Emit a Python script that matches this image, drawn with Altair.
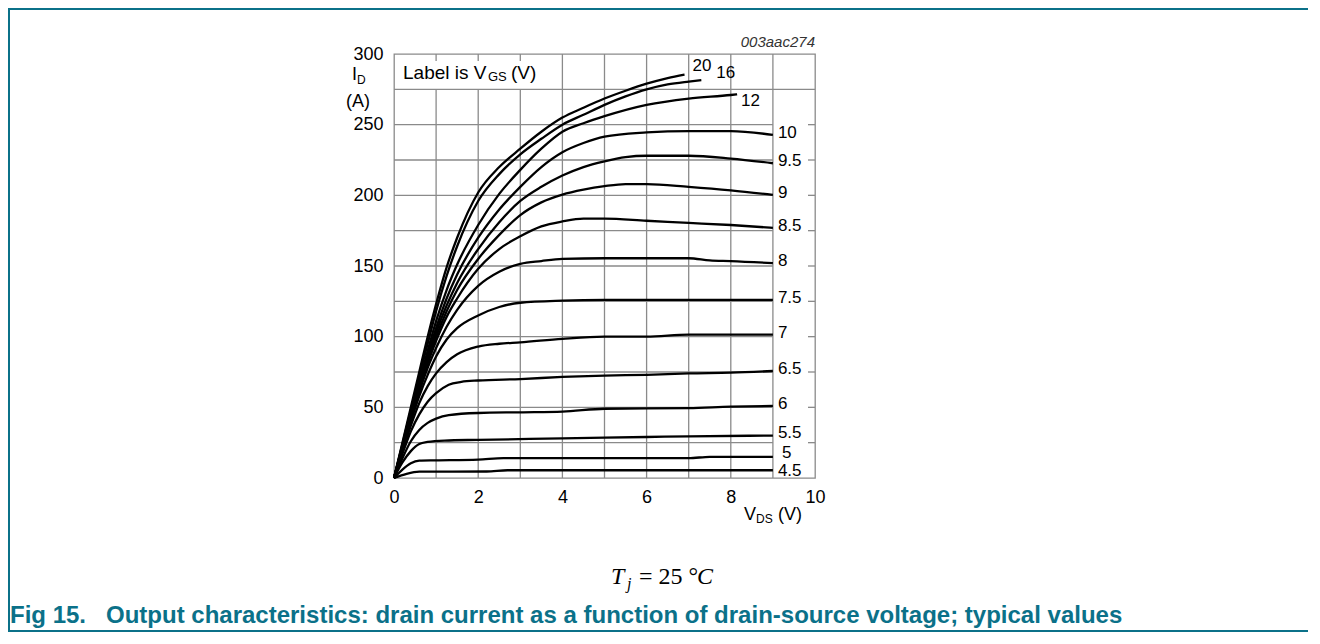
import altair as alt
import pandas as pd

# ---------------- data ----------------
VGS_LABELS = ["20", "16", "12", "10", "9.5", "9", "8.5", "8", "7.5", "7", "6.5", "6", "5.5", "5", "4.5"]

vds_20 = [0, 0.2, 0.4, 0.6, 0.8, 1, 1.25, 1.5, 2, 2.5, 3, 3.5, 4, 4.5, 5, 5.5, 6, 6.5, 6.9]
id_20 = [0, 25, 50, 75, 100, 123, 149, 170, 202, 220, 233, 245, 255, 262, 268.5, 274, 279, 283, 285.5]

vds_16 = [0, 0.2, 0.4, 0.6, 0.8, 1, 1.25, 1.5, 2, 2.5, 3, 3.5, 4, 4.5, 5, 5.5, 6, 6.5, 7, 7.3]
id_16 = [0, 24, 48, 72, 95, 118, 143, 164, 196, 215, 229, 240, 250, 257, 264, 270, 275, 278.5, 280.5, 281.5]

vds_12 = [0, 0.2, 0.4, 0.6, 0.8, 1, 1.25, 1.5, 2, 2.5, 3, 3.5, 4, 4.5, 5, 6, 7, 8, 8.15]
id_12 = [0, 23, 46, 68, 90, 111, 133, 151, 179, 201, 218, 233, 245, 251, 256, 264, 268.5, 271, 271.5]

vds_10 = [0, 0.2, 0.4, 0.6, 0.8, 1, 1.25, 1.5, 2, 2.5, 3, 3.5, 4, 4.5, 5, 6, 7, 8, 9]
id_10 = [0, 22.5, 45, 66, 87, 106, 127, 144, 170, 190, 206, 220, 230.5, 237, 241.5, 244.5, 245.5, 245.5, 242.7]

vds_9_5 = [0, 0.2, 0.4, 0.6, 0.8, 1, 1.25, 1.5, 2, 2.5, 3, 3.5, 4, 4.5, 5, 5.5, 6, 7, 8, 9]
id_9_5 = [0, 22, 44, 65, 85, 103, 122, 138, 162, 181, 196, 206, 214, 220, 224, 227, 228, 228, 226, 222.7]

vds_9 = [0, 0.2, 0.4, 0.6, 0.8, 1, 1.25, 1.5, 2, 2.5, 3, 3.5, 4, 4.5, 5, 5.5, 6, 7, 8, 9]
id_9 = [0, 22, 43, 64, 83, 100, 118, 133, 155, 172, 186, 195, 200.5, 204, 206.5, 208, 208, 206, 203.5, 200.3]

vds_8_5 = [0, 0.2, 0.4, 0.6, 0.8, 1, 1.25, 1.5, 2, 2.5, 3, 3.5, 4, 4.5, 5, 6, 7, 8, 9]
id_8_5 = [0, 21.5, 43, 63, 81, 97, 114, 127, 148, 162, 171, 178, 181.5, 183.5, 183.5, 182, 180.5, 179, 177]

vds_8 = [0, 0.2, 0.4, 0.6, 0.8, 1, 1.25, 1.5, 2, 2.5, 3, 3.5, 4, 5, 6, 7, 7.5, 8, 9]
id_8 = [0, 21, 42, 61, 78, 92, 107, 119, 136, 146, 151.5, 153.5, 155, 155.5, 155.5, 155.5, 154, 153.5, 152]

vds_7_5 = [0, 0.2, 0.4, 0.6, 0.8, 1, 1.25, 1.5, 2, 2.5, 3, 4, 5, 9]
id_7_5 = [0, 20, 40, 58, 73, 86, 98, 106, 115, 121, 124, 125.5, 126, 126]

vds_7 = [0, 0.2, 0.4, 0.6, 0.8, 1, 1.25, 1.5, 2, 2.5, 3, 4, 5, 6, 7, 9]
id_7 = [0, 19, 37, 53, 65, 74, 82, 87.5, 93, 95, 96, 98.5, 100, 100, 101.5, 101.5]

vds_6_5 = [0, 0.2, 0.4, 0.6, 0.8, 1, 1.3, 1.6, 2, 3, 4, 5, 6, 7, 8, 9]
id_6_5 = [0, 17, 33, 45, 54, 60, 66, 68, 69, 70, 71.5, 72.5, 73, 74, 74.5, 75.7]

vds_6 = [0, 0.2, 0.4, 0.6, 0.8, 1, 1.3, 2, 3, 4, 5, 7, 8, 9]
id_6 = [0, 14, 26, 34, 39, 42, 44.5, 46, 46.5, 47, 49, 49.5, 50.5, 51]

vds_5_5 = [0, 0.2, 0.4, 0.6, 0.8, 1.2, 2, 4, 6, 7, 9]
id_5_5 = [0, 11, 19, 24, 25.5, 26.5, 27, 28, 29, 29.5, 30]

vds_5 = [0, 0.2, 0.4, 0.6, 1, 2, 2.6, 4, 7, 7.5, 9]
id_5 = [0, 6, 10.5, 12.3, 12.5, 13, 14, 14, 14, 15, 15]

vds_4_5 = [0, 0.3, 0.6, 2.2, 2.7, 9]
id_4_5 = [0, 3, 4.5, 4.6, 5.5, 5.5]

X_TICKS = [0, 2, 4, 6, 8, 10]
Y_TICKS = [0, 50, 100, 150, 200, 250, 300]
X_GRID = [1, 2, 3, 4, 5, 6, 7, 8, 9]
Y_GRID = [25, 50, 75, 100, 125, 150, 175, 200, 225, 250, 275]

SERIES = [
    (vds_20, id_20), (vds_16, id_16), (vds_12, id_12), (vds_10, id_10),
    (vds_9_5, id_9_5), (vds_9, id_9), (vds_8_5, id_8_5), (vds_8, id_8),
    (vds_7_5, id_7_5), (vds_7, id_7), (vds_6_5, id_6_5), (vds_6, id_6),
    (vds_5_5, id_5_5), (vds_5, id_5), (vds_4_5, id_4_5),
]

# ---------------- layout / style ----------------
W, H = 421, 424
PAD_L, PAD_T = 386, 46
TOTAL_W, TOTAL_H = 1300, 624
SANS = "Liberation Sans"
SERIF = "Liberation Serif"
GRID = "#8a8a8a"
TEAL = "#0b7189"
FS = 18
FS_LAB = 17

rows = []
for lab, (xs, ys) in zip(VGS_LABELS, SERIES):
    for i, (a, b) in enumerate(zip(xs, ys)):
        rows.append({"vgs": lab, "i": i, "vds": a, "id": b})
curves = pd.DataFrame(rows)

# label placement: offsets in pixels from the end of each curve
label_offsets = {"20": (8, -8), "16": (15, -7), "12": (4, 7), "5.5": (5, -3),
                 "5": (9, -4), "4.5": (5, 1)}
lrows = []
for lab, (xs, ys) in zip(VGS_LABELS, SERIES):
    dx, dy = label_offsets.get(lab, (5, -2))
    lrows.append({"t": lab, "x": xs[-1] + dx * 10 / W, "y": ys[-1] - dy * 300 / H})
labels = pd.DataFrame(lrows)

xscale = alt.Scale(domain=[0, 10], nice=False, zero=False)
yscale = alt.Scale(domain=[0, 300], nice=False, zero=False)
xaxis = alt.Axis(values=X_TICKS, title=None, grid=False, domain=False, ticks=False, tickSize=0,
                 labelFont=SANS, labelFontSize=FS, labelColor="black", labelPadding=10,
                 labelFlush=False, labelOverlap=False)
yaxis = alt.Axis(values=Y_TICKS, title=None, grid=False, domain=False, ticks=False, tickSize=0,
                 labelFont=SANS, labelFontSize=FS, labelColor="black", labelPadding=11,
                 labelFlush=False, labelOverlap=False)


def X(f):
    return alt.X(f, scale=xscale, axis=xaxis)


def Y(f):
    return alt.Y(f, scale=yscale, axis=yaxis)


# grid
vgrid = pd.DataFrame({"x": X_GRID, "y0": [0] * len(X_GRID),
                      "y1": [275 if v <= 3 else 300 for v in X_GRID]})
hgrid = pd.DataFrame({"y": Y_GRID, "x0": [0] * len(Y_GRID),
                      "x1": [10 if v >= 275 else 9 for v in Y_GRID]})
vlines = alt.Chart(vgrid).mark_rule(color=GRID, strokeWidth=1.3).encode(
    x=X("x:Q"), y=Y("y0:Q"), y2="y1:Q")
hlines = alt.Chart(hgrid).mark_rule(color=GRID, strokeWidth=1.3).encode(
    y=Y("y:Q"), x=X("x0:Q"), x2="x1:Q")
rticks = alt.Chart(pd.DataFrame({"y": [v for v in Y_GRID if v <= 250]})).mark_rule(
    color=GRID, strokeWidth=1.3).encode(y=Y("y:Q"), x=alt.value(W - 7), x2=alt.value(W))
tticks = alt.Chart(pd.DataFrame({"x": [v for v in X_GRID if v <= 3]})).mark_rule(
    color=GRID, strokeWidth=1.3).encode(x=X("x:Q"), y=alt.value(0), y2=alt.value(7))

lines = alt.Chart(curves).mark_line(color="black", strokeWidth=2.3, interpolate="monotone").encode(
    x=X("vds:Q"), y=Y("id:Q"), detail="vgs:N", order="i:Q")

clabels = alt.Chart(labels).mark_text(align="left", baseline="middle", font=SANS,
                                      fontSize=FS_LAB, color="black").encode(
    x=X("x:Q"), y=Y("y:Q"), text="t:N")


def txt(s, x, y, size=FS, font=SANS, style="normal", weight="normal", color="black", align="left"):
    return alt.Chart(pd.DataFrame({"t": [s]})).mark_text(
        align=align, baseline="middle", font=font, fontSize=size, fontStyle=style,
        fontWeight=weight, color=color).encode(text="t:N", x=alt.value(x), y=alt.value(y))


ox, oy = 394, 54  # absolute position of plot origin (top-left)
annos = [
    txt("I", 352 - ox, 75 - oy),
    txt("D", 357 - ox, 80 - oy, size=12),
    txt("(A)", 346 - ox, 102 - oy),
    txt("003aac274", 815 - ox, 42 - oy, size=15, style="italic", color="#333333", align="right"),
    txt("Label is V", 403 - ox, 73 - oy, size=19),
    txt("GS", 488 - ox, 77 - oy, size=13),
    txt("(V)", 511 - ox, 73 - oy, size=19),
    txt("V", 744 - ox, 515 - oy),
    txt("DS", 756 - ox, 519 - oy, size=12),
    txt("(V)", 778 - ox, 515 - oy),
    txt("T", 611 - ox, 577 - oy, size=24, font=SERIF, style="italic"),
    txt("j", 627 - ox, 584 - oy, size=16, font=SERIF, style="italic"),
    txt("= 25 °", 639 - ox, 577 - oy, size=24, font=SERIF),
    txt("C", 697 - ox, 577 - oy, size=24, font=SERIF, style="italic"),
    txt("Fig 15.", 10 - ox, 616 - oy, size=24, weight="bold", color=TEAL),
    txt("Output characteristics: drain current as a function of drain-source voltage; typical values",
        106 - ox, 616 - oy, size=24, weight="bold", color=TEAL),
]

# teal frame of the figure (canvas edges)
frame = [
    alt.Chart(pd.DataFrame({"a": [0]})).mark_rule(color=TEAL, strokeWidth=2).encode(
        x=alt.value(-PAD_L), x2=alt.value(TOTAL_W - PAD_L), y=alt.value(-PAD_T + 1)),
    alt.Chart(pd.DataFrame({"a": [0]})).mark_rule(color=TEAL, strokeWidth=2).encode(
        x=alt.value(-PAD_L + 1), y=alt.value(-PAD_T), y2=alt.value(TOTAL_H - PAD_T)),
    alt.Chart(pd.DataFrame({"a": [0]})).mark_rule(color=TEAL, strokeWidth=2).encode(
        x=alt.value(-PAD_L), x2=alt.value(TOTAL_W - PAD_L), y=alt.value(TOTAL_H - PAD_T - 1)),
]

chart = alt.layer(vlines, hlines, rticks, tticks, lines, clabels, *annos, *frame).properties(
    width=W, height=H,
    autosize=alt.AutoSizeParams(type="none"),
    padding={"left": PAD_L, "top": PAD_T, "right": TOTAL_W - PAD_L - W, "bottom": TOTAL_H - PAD_T - H},
    background="white",
).configure_view(stroke=GRID, strokeWidth=1.3)

chart.save("out.html", embed_options={"renderer": "svg", "actions": False})
